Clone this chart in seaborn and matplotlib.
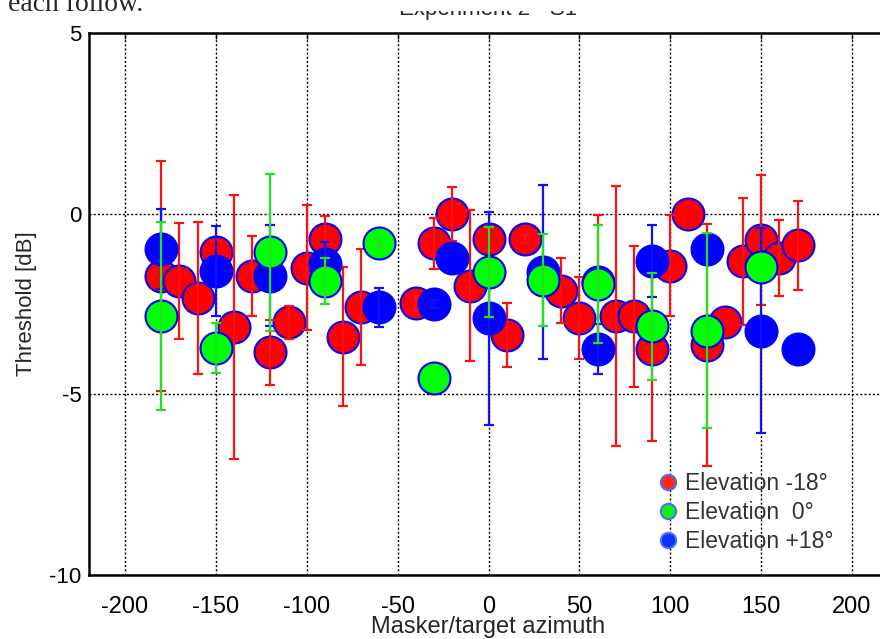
import numpy as np
import pandas as pd
import matplotlib
matplotlib.use("Agg")
import matplotlib.pyplot as plt
import seaborn as sns
from matplotlib.lines import Line2D
from matplotlib.patches import Rectangle

# Thresholds (dB) per masker/target azimuth, with error-bar half-lengths
red_az = [-180, -170, -160, -150, -140, -130, -120, -110, -100, -90, -80, -70,
          -40, -30, -20, -10, 0, 10, 20, 40, 50, 60, 70, 80, 90, 100, 110,
          120, 130, 140, 150, 160, 170]
red_thr = [-1.72, -1.87, -2.34, -1.07, -3.13, -1.72, -3.84, -3.01, -1.49, -0.70,
           -3.40, -2.59, -2.48, -0.82, -0.01, -1.99, -0.70, -3.35, -0.70, -2.13,
           -2.89, -1.90, -2.84, -2.84, -3.75, -1.44, -0.01, -3.63, -2.99, -1.32,
           -0.73, -1.23, -0.87]
red_err = [3.19, 1.60, 2.10, 0.30, 3.65, 1.10, 0.90, 0.46, 1.74, 0.64, 1.93, 1.60,
           0.20, 0.70, 0.74, 2.10, 0.30, 0.89, 0.10, 0.89, 1.14, 1.87, 3.60, 1.95,
           2.55, 1.40, 0.00, 3.35, 0.00, 1.76, 1.80, 1.05, 1.23]

green_az = [-180, -150, -120, -90, -60, -30, 0, 30, 60, 90, 120, 150]
green_thr = [-2.83, -3.72, -1.07, -1.87, -0.81, -4.55, -1.61, -1.84, -1.95,
             -3.12, -3.24, -1.47]
green_err = [2.60, 0.70, 2.17, 0.63, 0.10, 0.00, 1.25, 1.27, 1.63, 1.47, 2.70, 0.00]

blue_az = [-180, -150, -120, -90, -60, -30, -20, 0, 30, 60, 90, 120, 150, 170]
blue_thr = [-0.98, -1.58, -1.72, -1.38, -2.59, -2.50, -1.23, -2.90, -1.61, -3.75,
            -1.32, -0.98, -3.24, -3.75]
blue_err = [1.10, 1.25, 1.40, 0.60, 0.54, 0.10, 0.00, 2.95, 2.40, 0.70, 1.00,
            0.00, 2.83, 0.00]

labels = ["Elevation -18°", "Elevation  0°", "Elevation +18°"]
x_ticks = [-200, -150, -100, -50, 0, 50, 100, 150, 200]
y_ticks = [-10, -5, 0, 5]

sns.set_style("white")
plt.rcParams["font.family"] = ["Liberation Sans", "DejaVu Sans"]
plt.rcParams["axes.unicode_minus"] = False

fig = plt.figure(figsize=(8.8, 6.39), dpi=100)
ax = fig.add_axes([88.6 / 880, 64 / 639, 799.8 / 880, 542 / 639])

# drawing order: red, then blue, then green on top
series = [
    (red_az, red_thr, red_err, "#ff0000", "#ff1010", "#0000ff", 2),
    (blue_az, blue_thr, blue_err, "#0000ff", "#1010ff", "#0000ff", 3),
    (green_az, green_thr, green_err, "#00ff00", "#22e022", "#0000ff", 4),
]

for az, thr, err, face, line, edge, z in series:
    df = pd.DataFrame({"az": az, "thr": thr, "err": err})
    sns.scatterplot(data=df, x="az", y="thr", s=23 ** 2, color=face,
                    edgecolor=edge, linewidth=1.5, zorder=z, ax=ax, legend=False)
    bars = df[df["err"] > 0]
    ax.errorbar(bars["az"], bars["thr"], yerr=bars["err"], fmt="none",
                ecolor=line, elinewidth=1.6, capsize=3.5, capthick=1.6,
                zorder=z + 0.5)

ax.set_xlim(-220, 220)
ax.set_ylim(-10, 5)
ax.set_xticks(x_ticks)
ax.set_yticks(y_ticks)
ax.set_xticklabels([str(v) for v in x_ticks], fontsize=17)
ax.set_yticklabels([str(v) for v in y_ticks], fontsize=16)
ax.set_axisbelow(True)
ax.grid(True, color="black", linestyle=(0, (1.5, 1.5)), linewidth=1.0)
ax.tick_params(direction="in", top=True, right=True, length=4, width=1,
               colors="black")
ax.tick_params(axis="x", pad=15)
ax.tick_params(axis="y", pad=5)
for sp in ax.spines.values():
    sp.set_visible(True)
    sp.set_color("black")
    sp.set_linewidth(1.8)

ax.set_xlabel("Masker/target azimuth", fontsize=17, labelpad=-1.5)
ax.set_ylabel("Threshold [dB]", fontsize=16, labelpad=9)
ax.set_title("Experiment 2 - S1", fontsize=16, pad=13)

handles = [
    Line2D([], [], linestyle="none", marker="o", markersize=11,
           markerfacecolor=c, markeredgecolor="#4a6cff", markeredgewidth=1.5)
    for c in ["#ff2a10", "#10f010", "#1030ff"]
]
leg = ax.legend(handles, labels, loc="upper left",
                bbox_to_anchor=(657 / 880, 1 - 472 / 639),
                bbox_transform=fig.transFigure, frameon=False, fontsize=16.5,
                handlelength=1.0, handletextpad=0.2, labelspacing=0.26,
                borderpad=0, borderaxespad=0)
for t in leg.get_texts():
    t.set_color("#333333")

# page strip above the plot
fig.patches.append(Rectangle((0, 1 - 11 / 639), 1, 11 / 639,
                             transform=fig.transFigure, facecolor="white",
                             edgecolor="none", zorder=10))
fig.text(143 / 880, 1 - 11 / 639, "each follow.", family="Liberation Serif",
         fontsize=20, ha="right", va="baseline", zorder=11)

fig.savefig("out.png", dpi=100)
